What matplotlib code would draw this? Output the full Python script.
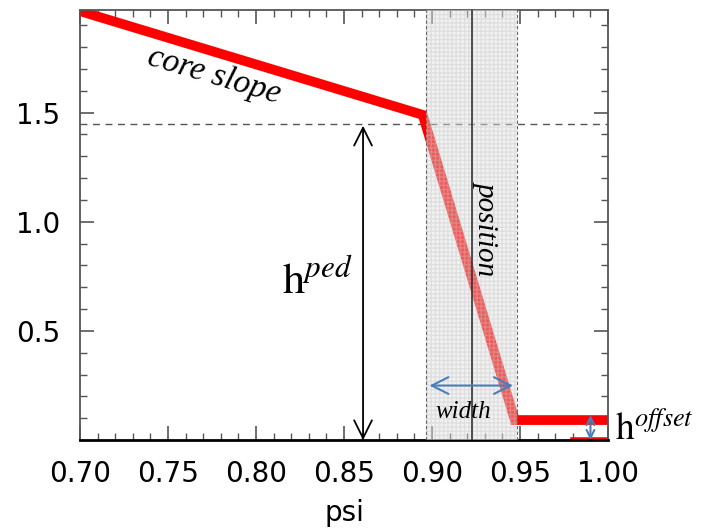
import matplotlib.pyplot as plt
import numpy as np

plt.rcParams['mathtext.fontset'] = 'stix'

# profile (tanh-like pedestal drawn as straight segments)
psi = [0.70, 0.8947, 0.947, 1.00]
prof = [1.965, 1.49, 0.092, 0.092]

ped_height = 1.45
ped_pos = 0.9225
ped_width = 0.052
offset = 0.092

fig = plt.figure(figsize=(7.06, 5.29), dpi=100)
ax = fig.add_axes([0.1133, 0.168, 0.748, 0.813])

ax.plot(psi, prof, color='red', lw=7, solid_capstyle='butt',
        solid_joinstyle='miter', zorder=2)
ax.plot([0.98, 1.0], [0.0, 0.0], color='red', lw=4, zorder=2)

# band for the pedestal width
ax.axvspan(ped_pos - ped_width / 2, ped_pos + ped_width / 2, facecolor='#e0e0e0',
           alpha=0.4, hatch='++++', edgecolor='#c4c4c4', lw=0, zorder=3)
for xe in (ped_pos - ped_width / 2, ped_pos + ped_width / 2):
    ax.axvline(xe, color='#666666', ls=(0, (3, 2)), lw=0.8, zorder=4)
ax.axvline(ped_pos, color='#333333', lw=1.2, zorder=4)

ax.axhline(ped_height, color='#555555', ls=(0, (5, 4)), lw=1.0, zorder=1)

# arrows
ax.annotate('', xy=(0.8608, 0.0), xytext=(0.8608, ped_height - 0.01),
            arrowprops=dict(arrowstyle='<->', color='black', lw=1.3,
                            mutation_scale=32, shrinkA=0, shrinkB=0), zorder=5)
ax.annotate('', xy=(0.8985, 0.25), xytext=(0.946, 0.25),
            arrowprops=dict(arrowstyle='<->', color='#4a7ebb', lw=1.5,
                            mutation_scale=30, shrinkA=0, shrinkB=0), zorder=5)
ax.annotate('', xy=(0.99, 0.0), xytext=(0.99, 0.115),
            arrowprops=dict(arrowstyle='<->', color='#4a7ebb', lw=1.5,
                            mutation_scale=14, shrinkA=0, shrinkB=0), zorder=5)

# labels
ax.text(0.776, 1.67, 'core slope', style='italic',
        fontsize=24, rotation=-16.5, ha='center', va='center',
        fontfamily='Liberation Serif')
ax.text(0.931, 0.97, 'position', fontfamily='Liberation Serif', style='italic',
        fontsize=21, rotation=-90, ha='center', va='center', zorder=6)
ax.text(0.835, 0.73, r'$\mathrm{h}^{\mathit{ped}}$', fontsize=32,
        ha='center', va='center')
ax.text(0.9175, 0.13, 'width', fontfamily='Liberation Serif', style='italic',
        fontsize=18, ha='center', va='center', zorder=6)
ax.text(1.004, 0.045, r'$\mathrm{h}^{\mathit{offset}}$', fontsize=27,
        ha='left', va='center', clip_on=False)

ax.set_xlim(0.70, 1.00)
ax.set_ylim(0.0, 1.97)
ax.set_xticks(np.arange(0.70, 1.001, 0.05))
ax.set_xticks(np.arange(0.70, 1.001, 0.01), minor=True)
ax.set_yticks([0.5, 1.0, 1.5])
ax.set_yticks(np.arange(0.1, 1.95, 0.1), minor=True)
ax.set_xticklabels(['0.70', '0.75', '0.80', '0.85', '0.90', '0.95', '1.00'])
ax.set_yticklabels(['0.5', '1.0', '1.5'])
ax.tick_params(which='both', direction='in', top=True, right=True,
               colors='#555555', labelcolor='black', labelsize=20, pad=14)
ax.tick_params(which='major', length=10, width=1.2)
ax.tick_params(which='minor', length=5, width=1.0)
for s in ax.spines.values():
    s.set_color('#555555')
    s.set_linewidth(1.3)
ax.spines['bottom'].set_color('black')
ax.spines['bottom'].set_linewidth(2)
ax.set_xlabel('psi', fontsize=20, labelpad=8)

fig.savefig('out.png', dpi=100)
